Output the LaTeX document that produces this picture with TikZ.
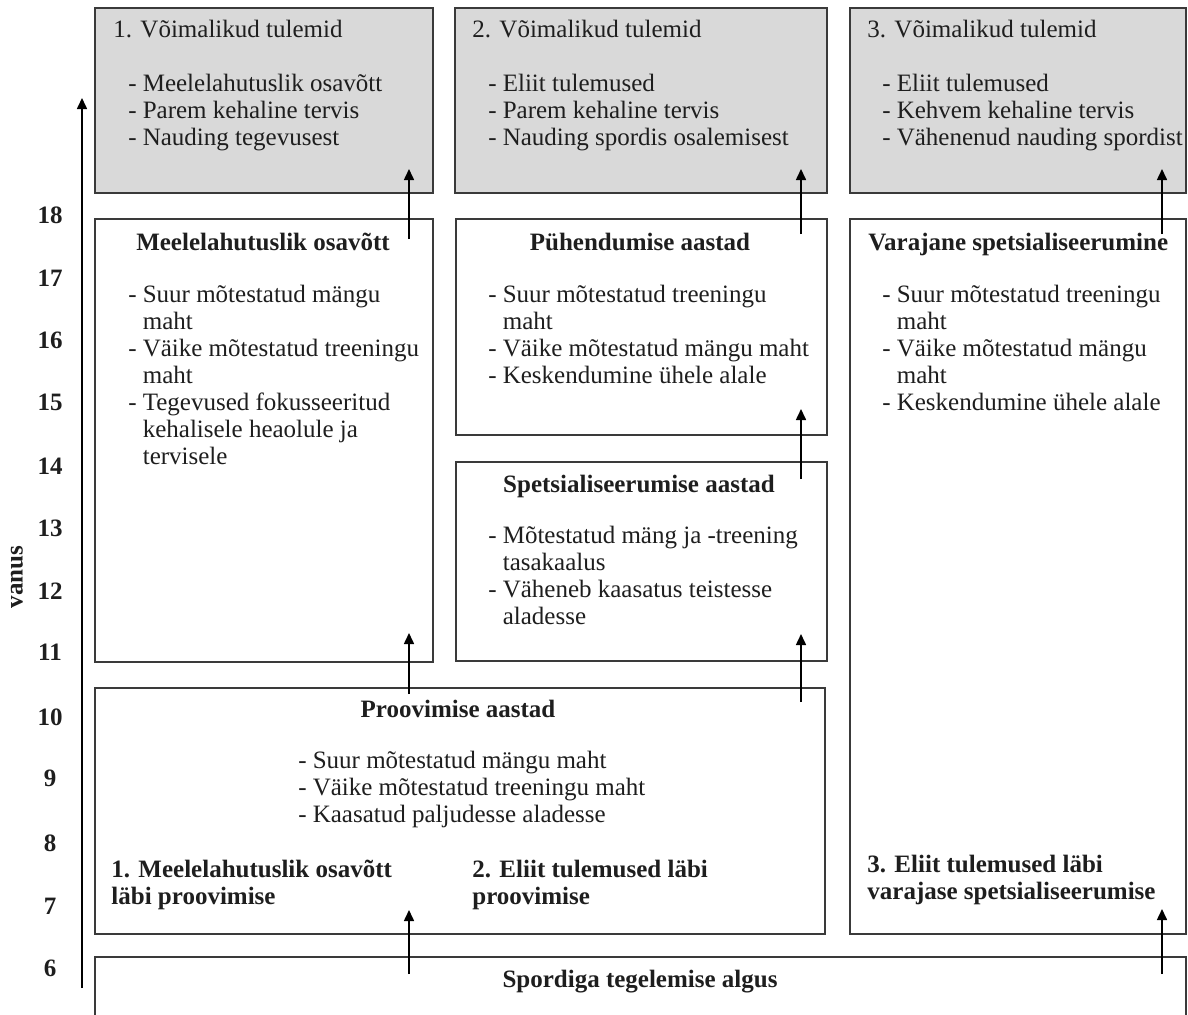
\documentclass[tikz,border=0pt]{standalone}
\usepackage{fontspec}
\setmainfont{Liberation Serif}
\usetikzlibrary{arrows.meta,fit,calc}
\definecolor{greyfill}{HTML}{D9D9D9}
\definecolor{ink}{HTML}{1E1E1E}
\definecolor{edge}{HTML}{3A3A3A}
\newcommand\di{\makebox[7.2pt][l]{-}}
\newcommand\dc{\hspace*{7.2pt}}
\begin{document}
\begin{tikzpicture}[x=0.5pt,y=-0.5pt,
  box/.style={draw=edge, line width=1pt, inner sep=0pt},
  gbox/.style={box, fill=greyfill},
  txt/.style={anchor=base west, inner sep=0pt, text=ink, font=\fontsize{12.5}{13.5}\selectfont},
  ttl/.style={anchor=base, inner sep=0pt, text=ink, font=\fontsize{12.5}{13.5}\selectfont\bfseries},
  btxt/.style={txt, font=\fontsize{12.5}{13.5}\selectfont\bfseries},
  age/.style={inner sep=0pt, text=ink, font=\fontsize{12.5}{13.5}\selectfont\bfseries},
  arr/.style={line width=0.8pt, draw=black, -{Triangle[length=5.5pt,width=5pt]}}
]
\useasboundingbox (0,0) rectangle (1188,1014);
\clip (0,0) rectangle (1188,1014);

% boxes
\node[gbox, fit={(95,8)(433,193)}] (g1) {};
\node[gbox, fit={(455,8)(827,193)}] (g2) {};
\node[gbox, fit={(850,8)(1186,193)}] (g3) {};
\node[box, fit={(95,219)(433,662)}] (meel) {};
\node[box, fit={(456,219)(827,435)}] (pueh) {};
\node[box, fit={(456,462)(827,661)}] (spets) {};
\node[box, fit={(850,219)(1186,934)}] (var) {};
\node[box, fit={(95,688)(825,934)}] (proov) {};
\node[box, fit={(95,957)(1186,1060)}] (spord) {};

% grey box texts
\node[txt] (g1t) at (113,37) {1. Võimalikud tulemid};
\node[txt] (g1l) at (128,91) {\begin{tabular}[t]{@{}l@{}}\di Meelelahutuslik osavõtt\\ \di Parem kehaline tervis\\ \di Nauding tegevusest\end{tabular}};
\node[txt] (g2t) at (472,37) {2. Võimalikud tulemid};
\node[txt] (g2l) at (488,91) {\begin{tabular}[t]{@{}l@{}}\di Eliit tulemused\\ \di Parem kehaline tervis\\ \di Nauding spordis osalemisest\end{tabular}};
\node[txt] (g3t) at (867,37) {3. Võimalikud tulemid};
\node[txt] (g3l) at (882,91) {\begin{tabular}[t]{@{}l@{}}\di Eliit tulemused\\ \di Kehvem kehaline tervis\\ \di Vähenenud nauding spordist\end{tabular}};

% Meelelahutuslik box
\node[ttl] (meelt) at (263,250) {Meelelahutuslik osavõtt};
\node[txt] (meell) at (128,302) {\begin{tabular}[t]{@{}l@{}}\di Suur mõtestatud mängu\\ \dc maht\\ \di Väike mõtestatud treeningu\\ \dc maht\\ \di Tegevused fokusseeritud\\ \dc kehalisele heaolule ja\\ \dc tervisele\end{tabular}};

% Pühendumise box
\node[ttl] (pueht) at (640,250) {Pühendumise aastad};
\node[txt] (puehl) at (488,302) {\begin{tabular}[t]{@{}l@{}}\di Suur mõtestatud treeningu\\ \dc maht\\ \di Väike mõtestatud mängu maht\\ \di Keskendumine ühele alale\end{tabular}};

% Spetsialiseerumise box
\node[ttl] (spetst) at (639,492) {Spetsialiseerumise aastad};
\node[txt] (spetsl) at (488,543) {\begin{tabular}[t]{@{}l@{}}\di Mõtestatud mäng ja -treening\\ \dc tasakaalus\\ \di Väheneb kaasatus teistesse\\ \dc aladesse\end{tabular}};

% Varajane box
\node[btxt] (vart) at (868,250) {Varajane spetsialiseerumine};
\node[txt] (varl) at (882,302) {\begin{tabular}[t]{@{}l@{}}\di Suur mõtestatud treeningu\\ \dc maht\\ \di Väike mõtestatud mängu\\ \dc maht\\ \di Keskendumine ühele alale\end{tabular}};
\node[btxt] (varb) at (867,872) {\begin{tabular}[t]{@{}l@{}}3. Eliit tulemused läbi\\ varajase spetsialiseerumise\end{tabular}};

% Proovimise box
\node[ttl] (proovt) at (458,717) {Proovimise aastad};
\node[txt] (proovl) at (298,768) {\begin{tabular}[t]{@{}l@{}}\di Suur mõtestatud mängu maht\\ \di Väike mõtestatud treeningu maht\\ \di Kaasatud paljudesse aladesse\end{tabular}};
\node[btxt] (proova) at (111,877) {\begin{tabular}[t]{@{}l@{}}1. Meelelahutuslik osavõtt\\ läbi proovimise\end{tabular}};
\node[btxt] (proovb) at (472,877) {\begin{tabular}[t]{@{}l@{}}2. Eliit tulemused läbi\\ proovimise\end{tabular}};

% Spordiga box
\node[ttl] (spordt) at (640,987) {Spordiga tegelemise algus};

% age axis
\foreach \a/\y in {18/215,17/278,16/340,15/402,14/466,13/528,12/591,11/652,10/717,9/778,8/843,7/906,6/968}
  \node[age] (age\a) at (50,\y) {\a};
\node[age, rotate=90] (vanus) at (17,577) {vanus};
\coordinate (ax0) at (82,988);
\coordinate (ax1) at (82,98);
\draw[arr] (ax0) -- (ax1);

% arrows, column 1
\draw[arr] ($(spord.north -| meel.east)+(-25,18)$) -- ($(proov.south -| meel.east)+(-25,-25)$);
\draw[arr] ($(proov.north -| meel.east)+(-25,7)$) -- ($(meel.south east)+(-25,-30)$);
\draw[arr] ($(meel.north east)+(-25,21)$) -- ($(g1.south east)+(-25,-25)$);
% column 2
\draw[arr] ($(proov.north -| spets.east)+(-27,15)$) -- ($(spets.south east)+(-27,-28)$);
\draw[arr] ($(spets.north east)+(-27,18)$) -- ($(pueh.south east)+(-27,-27)$);
\draw[arr] ($(pueh.north east)+(-27,16)$) -- ($(g2.south east)+(-27,-25)$);
% column 3
\draw[arr] ($(spord.north -| var.east)+(-25,18)$) -- ($(var.south east)+(-25,-26)$);
\draw[arr] ($(var.north east)+(-25,16)$) -- ($(g3.south east)+(-25,-25)$);
\end{tikzpicture}
\end{document}
